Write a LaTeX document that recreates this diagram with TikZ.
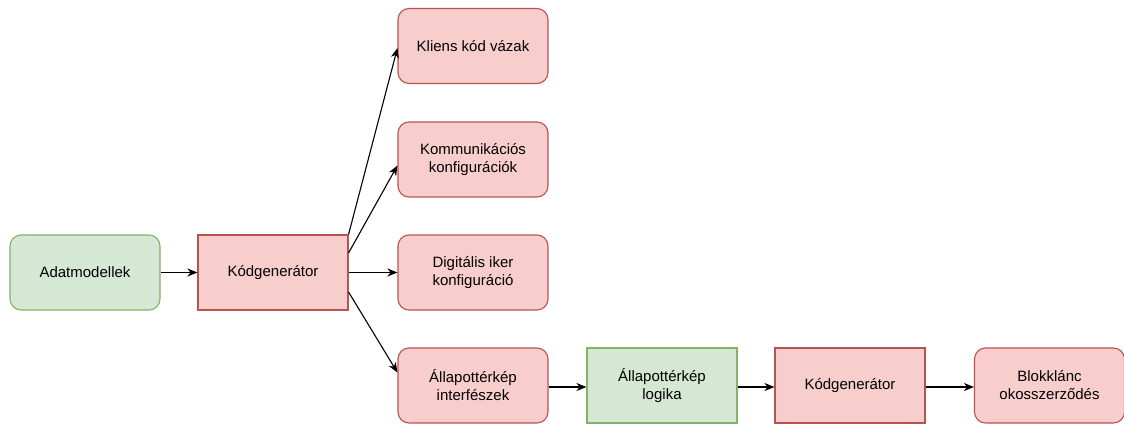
\documentclass[tikz,border=0pt]{standalone}
\usepackage{fontspec}
\setmainfont{Liberation Sans}
\usetikzlibrary{arrows.meta}
\definecolor{redfill}{HTML}{F8CECC}
\definecolor{redline}{HTML}{B85450}
\definecolor{greenfill}{HTML}{D5E8D4}
\definecolor{greenline}{HTML}{82B366}
\tikzset{
  box/.style={minimum width=150pt, minimum height=75pt, inner sep=2pt, align=center,
    font=\fontsize{15}{18}\selectfont, line width=1.1pt},
  redbox/.style={box, fill=redfill, draw=redline},
  greenbox/.style={box, fill=greenfill, draw=greenline},
  rnd/.style={rounded corners=11pt},
  conn/.style={line width=1.1pt, -{Stealth[length=10pt, width=8pt, inset=3pt]}}
}
\begin{document}
\begin{tikzpicture}[x=1pt, y=-1pt]
\useasboundingbox (0,0) rectangle (1124,423);
\node[greenbox, rnd] (ad) at (85,272.5) {Adatmodellek};
\node[redbox] (kg1) at (273,272.5) {Kódgenerátor};
\node[redbox, rnd] (kl) at (473,46) {Kliens kód vázak};
\node[redbox, rnd] (ko) at (473,159.5) {Kommunikációs\\konfigurációk};
\node[redbox, rnd] (di) at (473,272.5) {Digitális iker\\konfiguráció};
\node[redbox, rnd] (ai) at (473,385.5) {Állapottérkép\\interfészek};
\node[greenbox] (al) at (662,385.5) {Állapottérkép\\logika};
\node[redbox] (kg2) at (850,385.5) {Kódgenerátor};
\node[redbox, rnd] (bl) at (1049.5,385.5) {Blokklánc\\okosszerződés};

\draw[conn] (ad) -- (kg1);
\draw[conn] (kg1.north east) -- ([yshift=-2pt]kl.west);
\draw[conn] ([yshift=19.5pt]kg1.east) -- ([yshift=-6pt]ko.west);
\draw[conn] (kg1) -- (di);
\draw[conn] ([yshift=-19.5pt]kg1.east) -- ([yshift=13pt]ai.west);
\draw[conn] ([yshift=-1.5pt]ai.east) -- ([yshift=-1.5pt]al.west);
\draw[conn] ([yshift=-1.5pt]al.east) -- ([yshift=-1.5pt]kg2.west);
\draw[conn] ([yshift=-1.5pt]kg2.east) -- ([yshift=-1.5pt]bl.west);
\end{tikzpicture}
\end{document}
